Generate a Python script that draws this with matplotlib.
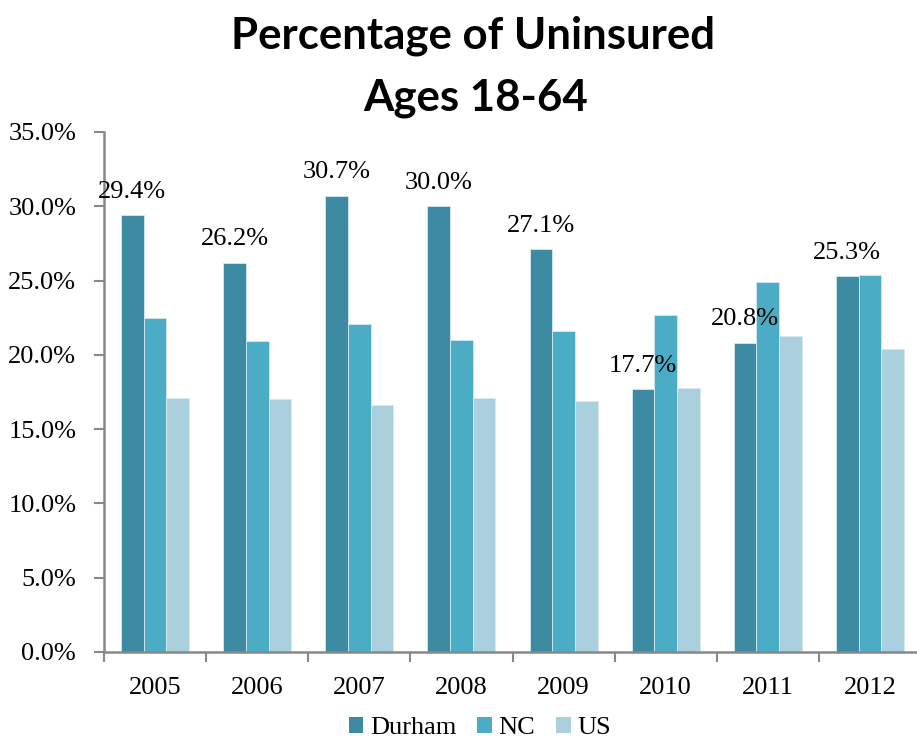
import matplotlib
matplotlib.use("Agg")
import matplotlib.pyplot as plt
import numpy as np
from matplotlib.ticker import FuncFormatter, FixedLocator
from matplotlib.patches import Patch

years = ["2005", "2006", "2007", "2008", "2009", "2010", "2011", "2012"]
durham = [29.4, 26.2, 30.7, 30.0, 27.1, 17.7, 20.8, 25.3]
nc = [22.5, 20.9, 22.1, 21.0, 21.6, 22.7, 24.9, 25.4]
us = [17.1, 17.0, 16.6, 17.1, 16.9, 17.8, 21.3, 20.4]
series_names = ["Durham", "NC", "US"]
colors = ["#3D8BA3", "#4BACC6", "#AACFDD"]

serif = ["Liberation Serif", "DejaVu Serif"]
fs = 19

fig = plt.figure(figsize=(9.17, 7.40), dpi=100)
ax = fig.add_axes([104/917, 1-652/740, (921-104)/917, (652-132)/740])

x = np.arange(len(years))
w = 0.222
for i, (vals, c, name) in enumerate(zip([durham, nc, us], colors, series_names)):
    ax.bar(x + (i-1)*w, vals, width=w, color=c, edgecolor="#D6EAF0", linewidth=0.6, label=name)

for xi, v in zip(x, durham):
    ax.annotate(f"{v:.1f}%", (xi - w, v), xytext=(0, 9), textcoords="offset points",
                ha="center", va="bottom", fontsize=fs, family=serif, color="black")

ax.set_xlim(-0.5, len(years)-0.5)
ax.set_ylim(0, 35)
ax.set_yticks(np.arange(0, 35.1, 5))
ax.yaxis.set_major_formatter(FuncFormatter(lambda v, p: f"{v:.1f}%"))
ax.set_xticks(x)
ax.set_xticklabels(years)
ax.xaxis.set_minor_locator(FixedLocator(np.arange(-0.5, len(years), 1.0)))
ax.tick_params(axis="x", which="major", length=0, pad=18, labelsize=fs)
ax.tick_params(axis="x", which="minor", length=7, width=1.5, color="#888888", direction="out")
ax.tick_params(axis="y", length=7, width=1.5, color="#888888", direction="out", pad=13, labelsize=fs)
for lbl in ax.get_xticklabels() + ax.get_yticklabels():
    lbl.set_family(serif)

for s in ["top", "right"]:
    ax.spines[s].set_visible(False)
for s in ["left", "bottom"]:
    ax.spines[s].set_color("#888888")
    ax.spines[s].set_linewidth(1.8)

fig.text(473/917, 1-48/740, "Percentage of Uninsured", ha="center", va="baseline",
         fontsize=31.5, fontweight="bold", family=["Lato", "DejaVu Sans"])
fig.text(476/917, 1-110/740, "Ages 18-64", ha="center", va="baseline",
         fontsize=31.5, fontweight="bold", family=["Lato", "DejaVu Sans"])

handles = [Patch(facecolor=c, edgecolor="none") for c in colors]
fig.legend(handles, series_names, loc="center", bbox_to_anchor=(480/917, 1-728/740),
           ncol=3, frameon=False, prop={"family": serif, "size": fs},
           handlelength=0.55, handleheight=0.55, handletextpad=0.25, columnspacing=0.8,
           borderpad=0, borderaxespad=0)

fig.savefig("out.png", dpi=100)
